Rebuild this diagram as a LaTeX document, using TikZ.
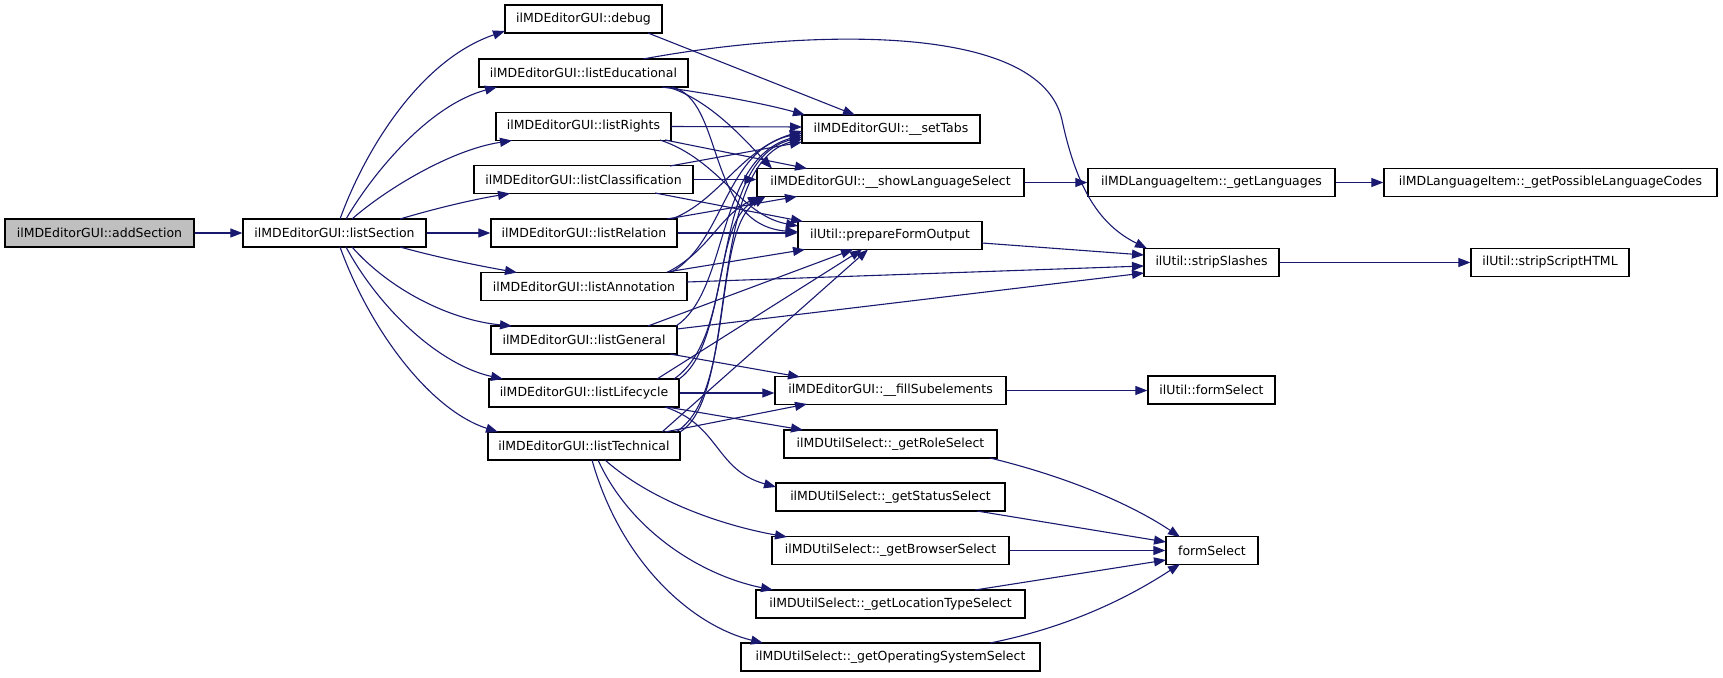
\documentclass[tikz,border=0pt]{standalone}
\usepackage{fontspec}
\setmainfont{DejaVu Sans}
\usetikzlibrary{arrows.meta,calc}
\definecolor{edgeblue}{RGB}{25,25,112}
\definecolor{rootgray}{RGB}{191,191,191}
\tikzset{
  fn/.style={draw=black, line width=1.2pt, fill=white, rectangle, minimum height=28pt, inner sep=0pt, font=\fontsize{12.5}{15}\selectfont, anchor=center},
  root/.style={fn, fill=rootgray},
  e/.style={draw=edgeblue, line width=1.1pt, -{Triangle[length=12pt,width=9pt]}}
}
\begin{document}
\begin{tikzpicture}[x=1pt,y=-1pt]
\useasboundingbox (0,0) rectangle (1723,677);
% nodes
\node[root, minimum width=189] (add) at (99.5,233) {ilMDEditorGUI::addSection};
\node[fn, minimum width=183] (ls) at (334.5,233) {ilMDEditorGUI::listSection};
\node[fn, minimum width=157] (dbg) at (583.5,19) {ilMDEditorGUI::debug};
\node[fn, minimum width=209] (ledu) at (583.5,73) {ilMDEditorGUI::listEducational};
\node[fn, minimum width=175] (lrig) at (583.5,126.5) {ilMDEditorGUI::listRights};
\node[fn, minimum width=219] (lcla) at (583.5,179.5) {ilMDEditorGUI::listClassification};
\node[fn, minimum width=186] (lrel) at (584,233) {ilMDEditorGUI::listRelation};
\node[fn, minimum width=206] (lann) at (584,286.5) {ilMDEditorGUI::listAnnotation};
\node[fn, minimum width=186] (lgen) at (584,340) {ilMDEditorGUI::listGeneral};
\node[fn, minimum width=190] (llif) at (584,393) {ilMDEditorGUI::listLifecycle};
\node[fn, minimum width=192] (ltec) at (584,446) {ilMDEditorGUI::listTechnical};
\node[fn, minimum width=178] (tabs) at (891,129) {ilMDEditorGUI::\_\_setTabs};
\node[fn, minimum width=267] (slang) at (890.5,182.5) {ilMDEditorGUI::\_\_showLanguageSelect};
\node[fn, minimum width=184] (pfo) at (890,235.5) {ilUtil::prepareFormOutput};
\node[fn, minimum width=231] (fill) at (890.5,390.5) {ilMDEditorGUI::\_\_fillSubelements};
\node[fn, minimum width=213] (role) at (890.5,444) {ilMDUtilSelect::\_getRoleSelect};
\node[fn, minimum width=229] (stat) at (890.5,497) {ilMDUtilSelect::\_getStatusSelect};
\node[fn, minimum width=237] (brow) at (890.5,550.5) {ilMDUtilSelect::\_getBrowserSelect};
\node[fn, minimum width=269] (loc) at (890.5,604) {ilMDUtilSelect::\_getLocationTypeSelect};
\node[fn, minimum width=299] (os) at (890.5,657) {ilMDUtilSelect::\_getOperatingSystemSelect};
\node[fn, minimum width=247] (glang) at (1211.5,182.5) {ilMDLanguageItem::\_getLanguages};
\node[fn, minimum width=135] (strip) at (1211.5,262.5) {ilUtil::stripSlashes};
\node[fn, minimum width=127] (ufs) at (1211.5,390) {ilUtil::formSelect};
\node[fn, minimum width=92] (fs) at (1212,550.5) {formSelect};
\node[fn, minimum width=333] (gcodes) at (1550.5,182.5) {ilMDLanguageItem::\_getPossibleLanguageCodes};
\node[fn, minimum width=158] (script) at (1550,262.5) {ilUtil::stripScriptHTML};
% edges from root
\draw[e] (add.east) -- (ls.west);
\draw[e] ($(ls)+(5.5,-14)$) .. controls (365,150) and (420,60) .. ($(dbg)+(-78.5,12)$);
\draw[e] ($(ls)+(11.5,-14)$) .. controls (375,170) and (430,105) .. ($(ledu)+(-86.5,14)$);
\draw[e] ($(ls)+(17.5,-14)$) .. controls (385,190) and (450,150) .. ($(lrig)+(-71.5,14)$);
\draw[e] ($(ls)+(65.5,-14)$) .. controls (430,210) and (470,200) .. ($(lcla)+(-73.5,14)$);
\draw[e] (ls.east) -- (lrel.west);
\draw[e] ($(ls)+(65.5,14)$) .. controls (440,258) and (480,266) .. ($(lann)+(-67,-14)$);
\draw[e] ($(ls)+(17.5,14)$) .. controls (390,290) and (450,320) .. ($(lgen)+(-72,-14)$);
\draw[e] ($(ls)+(11.5,14)$) .. controls (380,310) and (440,365) .. ($(llif)+(-81,-14)$);
\draw[e] ($(ls)+(5.5,14)$) .. controls (370,330) and (430,410) .. ($(ltec)+(-86,-14)$);
% debug
\draw[e] ($(dbg)+(64.5,14)$) -- ($(tabs)+(-36,-14)$);
% listEducational
\draw[e] ($(ledu)+(78.5,14)$) .. controls (720,95) and (770,105) .. ($(tabs)+(-86,-14)$);
\draw[e] ($(ledu)+(84.5,14)$) .. controls (710,100) and (745,140) .. ($(slang)+(-118.5,-14)$);
\draw[e] ($(ledu)+(88.5,14)$) .. controls (725,100) and (705,225) .. ($(pfo)+(-92,-3.5)$);
\draw[e] ($(ledu)+(59.5,-14)$) .. controls (800,30) and (1040,20) .. (1062,120) .. controls (1077,190) and (1100,225) .. ($(strip)+(-64.5,-14)$);
% listRights
\draw[e] ($(lrig)+(87.5,0)$) -- ($(tabs)+(-89,-2)$);
\draw[e] ($(lrig)+(81.5,13.5)$) -- ($(slang)+(-83.5,-14)$);
\draw[e] ($(lrig)+(76.5,13.5)$) .. controls (720,160) and (740,215) .. ($(pfo)+(-92,-9.5)$);
% listClassification
\draw[e] ($(lcla)+(86.5,-13.5)$) -- ($(tabs)+(-89,13)$);
\draw[e] (lcla.east) -- (lcla.east -| slang.west);
\draw[e] ($(lcla)+(71.5,13.5)$) -- ($(pfo)+(-87,-14)$);
% listRelation
\draw[e] ($(lrel)+(88,-14)$) .. controls (720,200) and (740,150) .. ($(tabs)+(-89,2)$);
\draw[e] ($(lrel)+(83,-14)$) -- ($(slang)+(-93.5,14)$);
\draw[e] (lrel.east) -- (lrel.east -| pfo.west);
% listAnnotation
\draw[e] ($(lann)+(88,-14.5)$) .. controls (725,240) and (725,150) .. ($(tabs)+(-89,4)$);
\draw[e] ($(lann)+(84,-14.5)$) .. controls (710,250) and (720,215) .. ($(slang)+(-130.5,14)$);
\draw[e] ($(lann)+(83,-14.5)$) -- ($(pfo)+(-85,14)$);
\draw[e] ($(lann)+(103,-4.5)$) -- ($(strip)+(-67.5,3.5)$);
% listGeneral
\draw[e] ($(lgen)+(92,-14)$) .. controls (730,290) and (715,160) .. ($(tabs)+(-89,6)$);
\draw[e] ($(lgen)+(64,-14)$) -- ($(pfo)+(-37,14)$);
\draw[e] ($(lgen)+(93,-11)$) -- ($(strip)+(-67.5,10.5)$);
\draw[e] ($(lgen)+(86,14)$) -- ($(fill)+(-90.5,-13.5)$);
% listLifecycle
\draw[e] ($(llif)+(95,-14)$) .. controls (735,340) and (710,160) .. ($(tabs)+(-89,8)$);
\draw[e] ($(llif)+(90,-14)$) .. controls (730,340) and (712,225) .. ($(slang)+(-128,14)$);
\draw[e] ($(llif)+(73,-14)$) -- ($(pfo)+(-28,14)$);
\draw[e] (llif.east) -- (llif.east -| fill.west);
\draw[e] ($(llif)+(83,14)$) -- ($(role)+(-87.5,-14)$);
\draw[e] ($(llif)+(81,14)$) .. controls (720,425) and (715,470) .. ($(stat)+(-114.5,-10)$);
% listTechnical
\draw[e] ($(ltec)+(96,-14)$) .. controls (740,395) and (705,165) .. ($(tabs)+(-89,10)$);
\draw[e] ($(ltec)+(92,-14)$) .. controls (735,395) and (712,230) .. ($(slang)+(-125,14)$);
\draw[e] ($(ltec)+(78,-14)$) -- ($(pfo)+(-22,14)$);
\draw[e] ($(ltec)+(81,-14)$) -- ($(fill)+(-83.5,13.5)$);
\draw[e] ($(ltec)+(21,14)$) .. controls (650,500) and (720,525) .. ($(brow)+(-103.5,-13.5)$);
\draw[e] ($(ltec)+(14,14)$) .. controls (630,530) and (700,575) .. ($(loc)+(-117.5,-14)$);
\draw[e] ($(ltec)+(8,14)$) .. controls (620,560) and (690,625) .. ($(os)+(-127.5,-14)$);
% right part
\draw[e] (slang.east) -- (glang.west);
\draw[e] (glang.east) -- (gcodes.west);
\draw[e] ($(pfo)+(92,7.5)$) -- ($(strip)+(-67.5,-7.5)$);
\draw[e] (strip.east) -- (script.west);
\draw[e] (fill.east) -- (fill.east -| ufs.west);
\draw[e] ($(role)+(99.5,14)$) .. controls (1080,480) and (1140,510) .. ($(fs)+(-32,-13.5)$);
\draw[e] ($(stat)+(86.5,14)$) -- ($(fs)+(-46,-8.5)$);
\draw[e] (brow.east) -- (fs.west);
\draw[e] ($(loc)+(84.5,-14)$) -- ($(fs)+(-46,9.5)$);
\draw[e] ($(os)+(99.5,-14)$) .. controls (1080,625) and (1140,590) .. ($(fs)+(-32,13.5)$);
\end{tikzpicture}
\end{document}
